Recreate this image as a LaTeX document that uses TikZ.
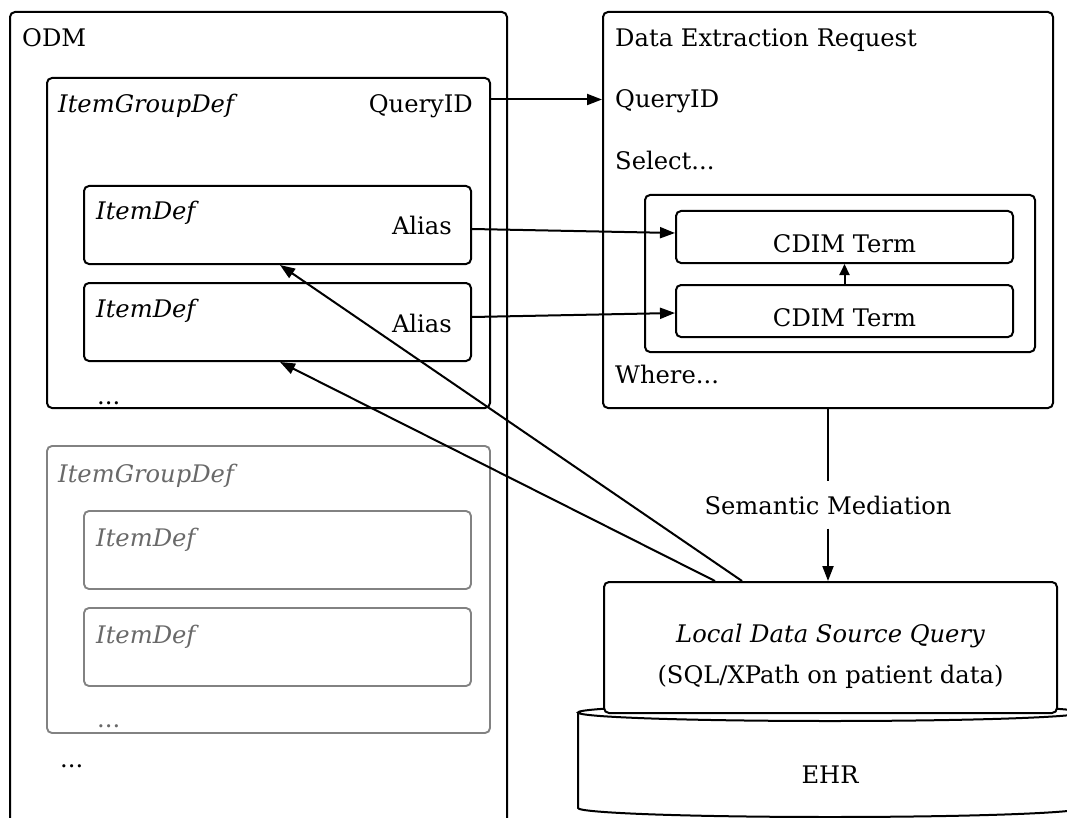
\documentclass[tikz,border=0pt]{standalone}
\usepackage{fontspec}
\setmainfont{DejaVu Serif}
\usetikzlibrary{arrows.meta,fit}
\definecolor{oldline}{RGB}{130,130,130}
\definecolor{oldtext}{RGB}{105,105,105}
\begin{document}
\begin{tikzpicture}[x=1pt,y=-1pt,
  font=\fontsize{24.2}{28}\selectfont,
  lw/.style={line width=2pt},
  box/.style={draw, lw, rounded corners=5pt, inner sep=0pt},
  gbox/.style={draw=oldline, line width=1.9pt, rounded corners=5pt, inner sep=0pt},
  txt/.style={anchor=base west, inner sep=0pt},
  gtxt/.style={txt, text=oldtext},
  arr/.style={lw, -{Triangle[length=15pt,width=11pt]}},
  sarr/.style={lw, -{Triangle[length=11pt,width=10pt]}}]
\path[use as bounding box] (0,0) rectangle (1067,818);
\begin{scope}
\clip (0,0) rectangle (1067,818);
% ODM side
\node[box, fit={(10,12) (507,860)}] (odm) {};
\node[txt] (odmlbl) at (22,47) {ODM};
\node[box, fit={(47,78) (490,408)}] (igd1) {};
\node[txt] (igd1lbl) at (58,113) {\itshape ItemGroupDef};
\node[txt, anchor=base east] (qid1) at (473,113) {QueryID};
\node[box, fit={(84,186) (471,264)}] (id1) {};
\node[txt] (id1lbl) at (96,220) {\itshape ItemDef};
\node[txt, anchor=base east] (al1) at (452,235) {Alias};
\node[box, fit={(84,283) (471,361)}] (id2) {};
\node[txt] (id2lbl) at (96,317) {\itshape ItemDef};
\node[txt, anchor=base east] (al2) at (452,332) {Alias};
\node[txt] (dots1) at (97,404) {...};
% old group (gray)
\node[gbox, fit={(47,446) (490,733)}] (igd2) {};
\node[gtxt] (igd2lbl) at (58,482) {\itshape ItemGroupDef};
\node[gbox, fit={(84,511) (471,589)}] (id3) {};
\node[gtxt] (id3lbl) at (96,546) {\itshape ItemDef};
\node[gbox, fit={(84,608) (471,686)}] (id4) {};
\node[gtxt] (id4lbl) at (96,643) {\itshape ItemDef};
\node[gtxt] (dots2) at (97,727) {...};
\node[txt] (dots3) at (60,767) {...};
% Data extraction request
\node[box, fit={(603,12) (1053,408)}] (der) {};
\node[txt] (derlbl) at (615,47) {Data Extraction Request};
\node[txt] (qid2) at (615,108) {QueryID};
\node[txt] (sel) at (615,170) {Select...};
\node[box, fit={(645,195) (1035,352)}] (selbox) {};
\node[box, fit={(676,211) (1013,263)}] (t1) {};
\node[txt, anchor=base] (t1lbl) at (844.5,252) {CDIM Term};
\node[box, fit={(676,285) (1013,337)}] (t2) {};
\node[txt, anchor=base] (t2lbl) at (844.5,326) {CDIM Term};
\node[txt] (where) at (615,383) {Where...};
% EHR cylinder
\fill[white] (578,712) rectangle (1082,808);
\fill[white] (830,808) ellipse[x radius=252, y radius=9];
\draw[lw] (578,712) -- (578,808) arc[start angle=180, end angle=0, x radius=252, y radius=9] -- (1082,712);
\draw[lw, fill=white] (830,712.5) ellipse[x radius=252, y radius=8.5];
\node[txt, anchor=base] (ehr) at (830,783) {EHR};
% Local data source query
\node[box, fill=white, fit={(604,582) (1057,713)}] (ldsq) {};
\node[txt, anchor=base] (ldsq1) at (830.5,642) {\itshape Local Data Source Query};
\node[txt, anchor=base] (ldsq2) at (830.5,683) {(SQL/XPath on patient data)};
% semantic mediation
\node[anchor=base, inner xsep=0pt, inner ysep=14pt] (sm) at (828,514) {Semantic Mediation};
% connectors
\coordinate (qstart) at (489,99.5);
\draw[arr] (qstart) -- (der.west |- qstart);
\draw[arr] (id1.east |- 0,229) -- (t1.west |- 0,233);
\draw[arr] (id2.east |- 0,317) -- (t2.west |- 0,313);
\draw[sarr] (t2.north) -- (t1.south);
\draw[lw] (der.south) -- (der.south |- sm.north);
\draw[arr] (sm.south) -- (sm.south |- ldsq.north);
\draw[arr] (ldsq.north -| 742,0) -- (id1.south -| 280,0);
\draw[arr] (ldsq.north -| 715,0) -- (id2.south -| 280,0);
\end{scope}
\end{tikzpicture}
\end{document}
